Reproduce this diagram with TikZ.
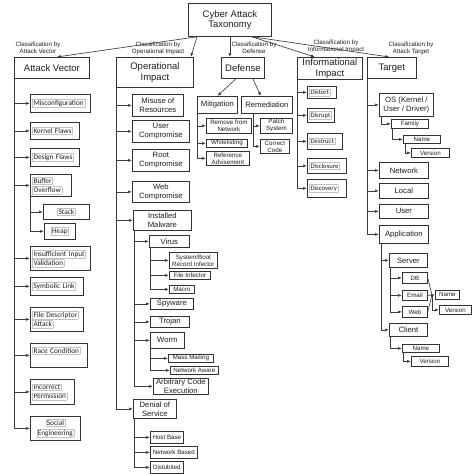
\documentclass[tikz,border=0pt]{standalone}
\usepackage{fontspec}
\setmainfont{Liberation Sans}
\newfontfamily\calfont{Carlito}
\usepackage{tikz}
\usetikzlibrary{arrows.meta}
\usepackage{xcolor}
\definecolor{boxclr}{RGB}{50,50,50}
\definecolor{lineclr}{RGB}{60,60,60}
\definecolor{tbgray}{RGB}{195,195,195}
\definecolor{txtclr}{RGB}{30,30,30}
\newcommand{\fhead}{\fontsize{9.5}{10.5}\selectfont}
\newcommand{\fmid}{\fontsize{7.7}{8.8}\selectfont}
\newcommand{\fsml}{\fontsize{6.2}{7}\selectfont}
\newcommand{\fcal}{\calfont\fontsize{7.3}{9.6}\selectfont}
\newcommand{\fcals}{\calfont\fontsize{6.7}{8}\selectfont}
\newcommand{\fcls}{\fontsize{6.2}{7}\selectfont}
\setlength{\fboxsep}{0.8pt}
\setlength{\fboxrule}{0.4pt}
\newcommand{\tbx}[1]{\fcolorbox{tbgray}{white}{#1}}
\tikzset{
  % Boxes
  hbox/.style  = {draw=boxclr, line width=0.8pt, font=\fhead, align=center,
                  anchor=north west, inner sep=0.5pt, text=txtclr},
  cbox/.style  = {draw=boxclr, line width=0.75pt, font=\fmid, align=center,
                  anchor=north west, inner sep=0.5pt, text=txtclr},
  sbox/.style  = {cbox, font=\fsml},
  ibox/.style  = {draw=boxclr, line width=0.75pt, font=\fcal, align=left,
                  anchor=north west, inner xsep=2pt, inner ysep=1pt, text=txtclr},
  wh/.style 2 args = {minimum width=#1, minimum height=#2},
  iw/.style 2 args = {text width=#1, minimum height=#2},
  % Connectors
  conn/.style  = {draw=lineclr, line width=0.65pt, -{Latex[length=4pt,width=3pt]}},
  link/.style  = {draw=lineclr, line width=0.65pt},
  % Labels
  cls/.style   = {font=\fcls, align=center, inner sep=0pt, text=txtclr},
}
\begin{document}
\begin{tikzpicture}[x=1pt,y=-1pt]
  \useasboundingbox (0,0) rectangle (474,474);
  % Root and first level
  \node[hbox, wh={83}{33}] (root) at (188,3) {Cyber Attack\\Taxonomy};
  \node[hbox, wh={75}{21}] (av) at (14,57) {Attack Vector};
  \node[hbox, wh={77}{30}] (oi) at (116,57) {Operational\\Impact};
  \node[hbox, wh={43}{21}] (df) at (221,57) {Defense};
  \node[hbox, wh={65}{22}] (ii) at (297,57) {Informational\\Impact};
  \node[hbox, wh={49}{21}] (tg) at (367,57) {Target};
  \node[cls] (lav) at (38,48) {Classification by\\Attack Vector};
  \node[cls] (loi) at (158,48) {Classification by\\Operational Impact};
  \node[cls] (ldf) at (254,48) {Classification by\\Defense};
  \node[cls] (lii) at (336,46) {Classification by\\Informational Impact};
  \node[cls] (ltg) at (411,48) {Classification by\\Attack Target};
  \draw[conn] ([xshift=9pt]root.south west) -- ([xshift=5pt]av.north);
  \draw[conn] ([xshift=9pt]root.south west) -- ([xshift=-3pt]oi.north east);
  \draw[conn] (root.south) -- (root.south |- df.north);
  \draw[conn] ([xshift=-20pt]root.south east) -- ([xshift=-15pt]ii.north);
  \draw[conn] ([xshift=-19pt]root.south east) -- ([xshift=-2.5pt]tg.north);

  % Attack vector
  \node[ibox, iw={56pt}{18}] (mis) at (30,94) {\tbx{Misconfiguration}};
  \node[ibox, iw={45pt}{17}] (kf) at (30,122) {\tbx{Kernel Flaws}};
  \node[ibox, iw={45pt}{18}] (dfl) at (30,148) {\tbx{Design Flaws}};
  \node[ibox, iw={37pt}{22}] (bo) at (30,174) {\tbx{Buffer}\\\tbx{Overflow}};
  \node[ibox, iw={42pt}{15}, align=center] (stk) at (43,204) {\tbx{Stack}};
  \node[ibox, iw={27pt}{16}, align=center] (hp) at (44,223) {\tbx{Heap}};
  \node[ibox, iw={56pt}{24}] (iiv) at (30,246) {\tbx{Insufficient Input}\\\tbx{Validation}};
  \node[ibox, iw={49pt}{18}] (sl) at (30,277) {\tbx{Symbolic Link}};
  \node[ibox, iw={49pt}{24}] (fda) at (30,307) {\tbx{File Descriptor}\\\tbx{Attack}};
  \node[ibox, iw={53pt}{24}, text depth=11pt] (rc) at (30,343) {\tbx{Race Condition}};
  \node[ibox, iw={40pt}{25}] (ip) at (30,379) {\tbx{Incorrect}\\\tbx{Permission}};
  \node[ibox, iw={46pt}{24}, align=center] (se) at (30,416) {\tbx{Social}\\\tbx{Engineering}};

  % Operational impact
  \node[cbox, wh={51}{22}] (mr) at (132,94) {Misuse of\\Resources};
  \node[cbox, wh={57}{22}] (uc) at (132,120) {User\\Compromise};
  \node[cbox, wh={57}{22}] (rcp) at (132,149) {Root\\Compromise};
  \node[cbox, wh={57}{21}] (wc) at (132,181) {Web\\Compromise};
  \node[cbox, wh={58}{20}] (im) at (133,210) {Installed\\Malware};
  \node[cbox, wh={40}{12}] (vir) at (149,235) {Virus};
  \node[sbox, wh={48}{16}] (sbr) at (169,252) {System/Boot\\Record Infector};
  \node[sbox, wh={41}{8}] (fi) at (169,271) {File Infector};
  \node[sbox, wh={25}{8}] (mac) at (169,285) {Macro};
  \node[cbox, wh={43}{11}] (spy) at (150,298) {Spyware};
  \node[cbox, wh={39}{11}] (tro) at (150,316) {Trojan};
  \node[cbox, wh={34}{16}] (wrm) at (150,332) {Worm};
  \node[sbox, wh={45}{8}] (mm) at (168,354) {Mass Mailing};
  \node[sbox, wh={48}{8}] (na) at (170,366) {Network Aware};
  \node[cbox, wh={55}{16}] (ace) at (153,378) {Arbitrary Code\\Execution};
  \node[cbox, wh={43}{19}] (dos) at (133,399) {Denial of\\Service};
  \node[sbox, wh={33}{12}] (hb) at (150,431) {Host Base};
  \node[sbox, wh={47}{12}] (nb) at (150,446) {Network Based};
  \node[sbox, wh={33}{12}] (dis) at (150,461) {Distubited};

  % Defense
  \node[cbox, wh={40}{17}] (mit) at (197,96) {Mitigation};
  \node[cbox, wh={51}{17}] (rem) at (241,96) {Remediation};
  \node[sbox, wh={45}{15}] (rfn) at (206,118) {Remove from\\Network};
  \node[sbox, wh={41}{8}] (wl) at (206,139) {Whitelisting};
  \node[sbox, wh={43}{14}] (ra) at (206,151) {Reference\\Advisement};
  \node[sbox, wh={32}{15}] (ps) at (260,118) {Patch\\System};
  \node[sbox, wh={29}{14}] (cc) at (260,139) {Correct\\Code};

  % Informational impact
  \node[ibox, font=\fcals, iw={25pt}{12}] (dst) at (307,86) {\tbx{Distort}};
  \node[ibox, font=\fcals, iw={23pt}{14}] (dsr) at (307,108) {\tbx{Disrupt}};
  \node[ibox, font=\fcals, iw={31pt}{16}] (des) at (307,133) {\tbx{Destruct}};
  \node[ibox, font=\fcals, iw={35pt}{15}] (dcl) at (307,158) {\tbx{Disclosure}};
  \node[ibox, font=\fcals, iw={35pt}{18}] (dcv) at (307,179) {\tbx{Discovery}};

  % Target
  \node[cbox, wh={54}{23}] (os) at (379,93) {OS (Kernel /\\User / Driver)};
  \node[sbox, wh={37}{9}] (fam) at (391,119) {Family};
  \node[sbox, wh={37}{8}] (nm1) at (403,135) {Name};
  \node[sbox, wh={38}{9}] (ver1) at (411,148) {Version};
  \node[cbox, wh={49}{16}] (net) at (379,162) {Network};
  \node[cbox, wh={49}{15}] (loc) at (379,183) {Local};
  \node[cbox, wh={49}{14}] (usr) at (379,204) {User};
  \node[cbox, wh={49}{18}] (app) at (379,225) {Application};
  \node[cbox, wh={38}{14}] (srv) at (389,253) {Server};
  \node[sbox, wh={25}{11}] (db) at (402,272) {DB};
  \node[sbox, wh={25}{10}] (eml) at (402,290) {Email};
  \node[sbox, wh={25}{11}] (web) at (402,306) {Web};
  \node[sbox, wh={24}{9}] (nm2) at (435,290) {Name};
  \node[sbox, wh={32}{9}] (ver2) at (439,305) {Version};
  \node[cbox, wh={38}{13}] (cli) at (389,323) {Client};
  \node[sbox, wh={37}{8}] (nm3) at (402,344) {Name};
  \node[sbox, wh={37}{10}] (ver3) at (411,356) {Version};

  % Tree connectors
  \foreach \ch in {mis,kf,dfl,bo,iiv,sl,fda,rc,ip,se}
    \draw[conn] (av.south west) |- (\ch.west);
  \foreach \ch in {stk,hp}
    \draw[conn] (bo.south west) |- (\ch.west);
  \foreach \ch in {mr,uc,rcp,wc,im,dos}
    \draw[conn] (oi.south west) |- (\ch.west);
  \foreach \ch in {vir,spy,tro,wrm,ace}
    \draw[conn] ([xshift=1pt]im.south west) |- (\ch.west);
  \foreach \ch in {sbr,fi,mac}
    \draw[conn] ([xshift=1pt]vir.south west) |- (\ch.west);
  \foreach \ch in {mm,na}
    \draw[conn] (wrm.south west) |- (\ch.west);
  \foreach \ch in {hb,nb,dis}
    \draw[conn] ([xshift=1pt]dos.south west) |- (\ch.west);
  \draw[conn] ([xshift=-7pt]df.south) -- (mit.north);
  \draw[conn] ([xshift=10pt]df.south) -- ([xshift=-6pt]rem.north);
  \foreach \ch in {rfn,wl,ra}
    \draw[conn] (mit.south west) |- (\ch.west);
  \foreach \ch in {ps,cc}
    \draw[conn] ([xshift=12pt]rem.south west) |- (\ch.west);
  \foreach \ch in {dst,dsr,des,dcl,dcv}
    \draw[conn] (ii.south west) |- (\ch.west);
  \foreach \ch in {os,net,loc,usr,app}
    \draw[conn] (tg.south west) |- (\ch.west);
  \draw[conn] ([xshift=2pt]os.south west) |- (fam.west);
  \draw[conn] ([xshift=1pt]fam.south west) |- (nm1.west);
  \draw[conn] ([xshift=2pt]nm1.south west) |- (ver1.west);
  \foreach \ch in {srv,cli}
    \draw[conn] ([xshift=2pt]app.south west) |- (\ch.west);
  \foreach \ch in {db,eml,web}
    \draw[conn] ([xshift=1pt]srv.south west) |- (\ch.west);
  \draw[link] (db.east) -- ([xshift=-3pt]nm2.west);
  \draw[link] (web.east) -- ([xshift=-3pt]nm2.west);
  \draw[conn] (eml.east) -- (nm2.west);
  \draw[conn] ([xshift=-3pt]nm2.west) |- (ver2.west);
  \draw[conn] ([xshift=1pt]cli.south west) |- (nm3.west);
  \draw[conn] ([xshift=1pt]nm3.south west) |- (ver3.west);
\end{tikzpicture}
\end{document}
